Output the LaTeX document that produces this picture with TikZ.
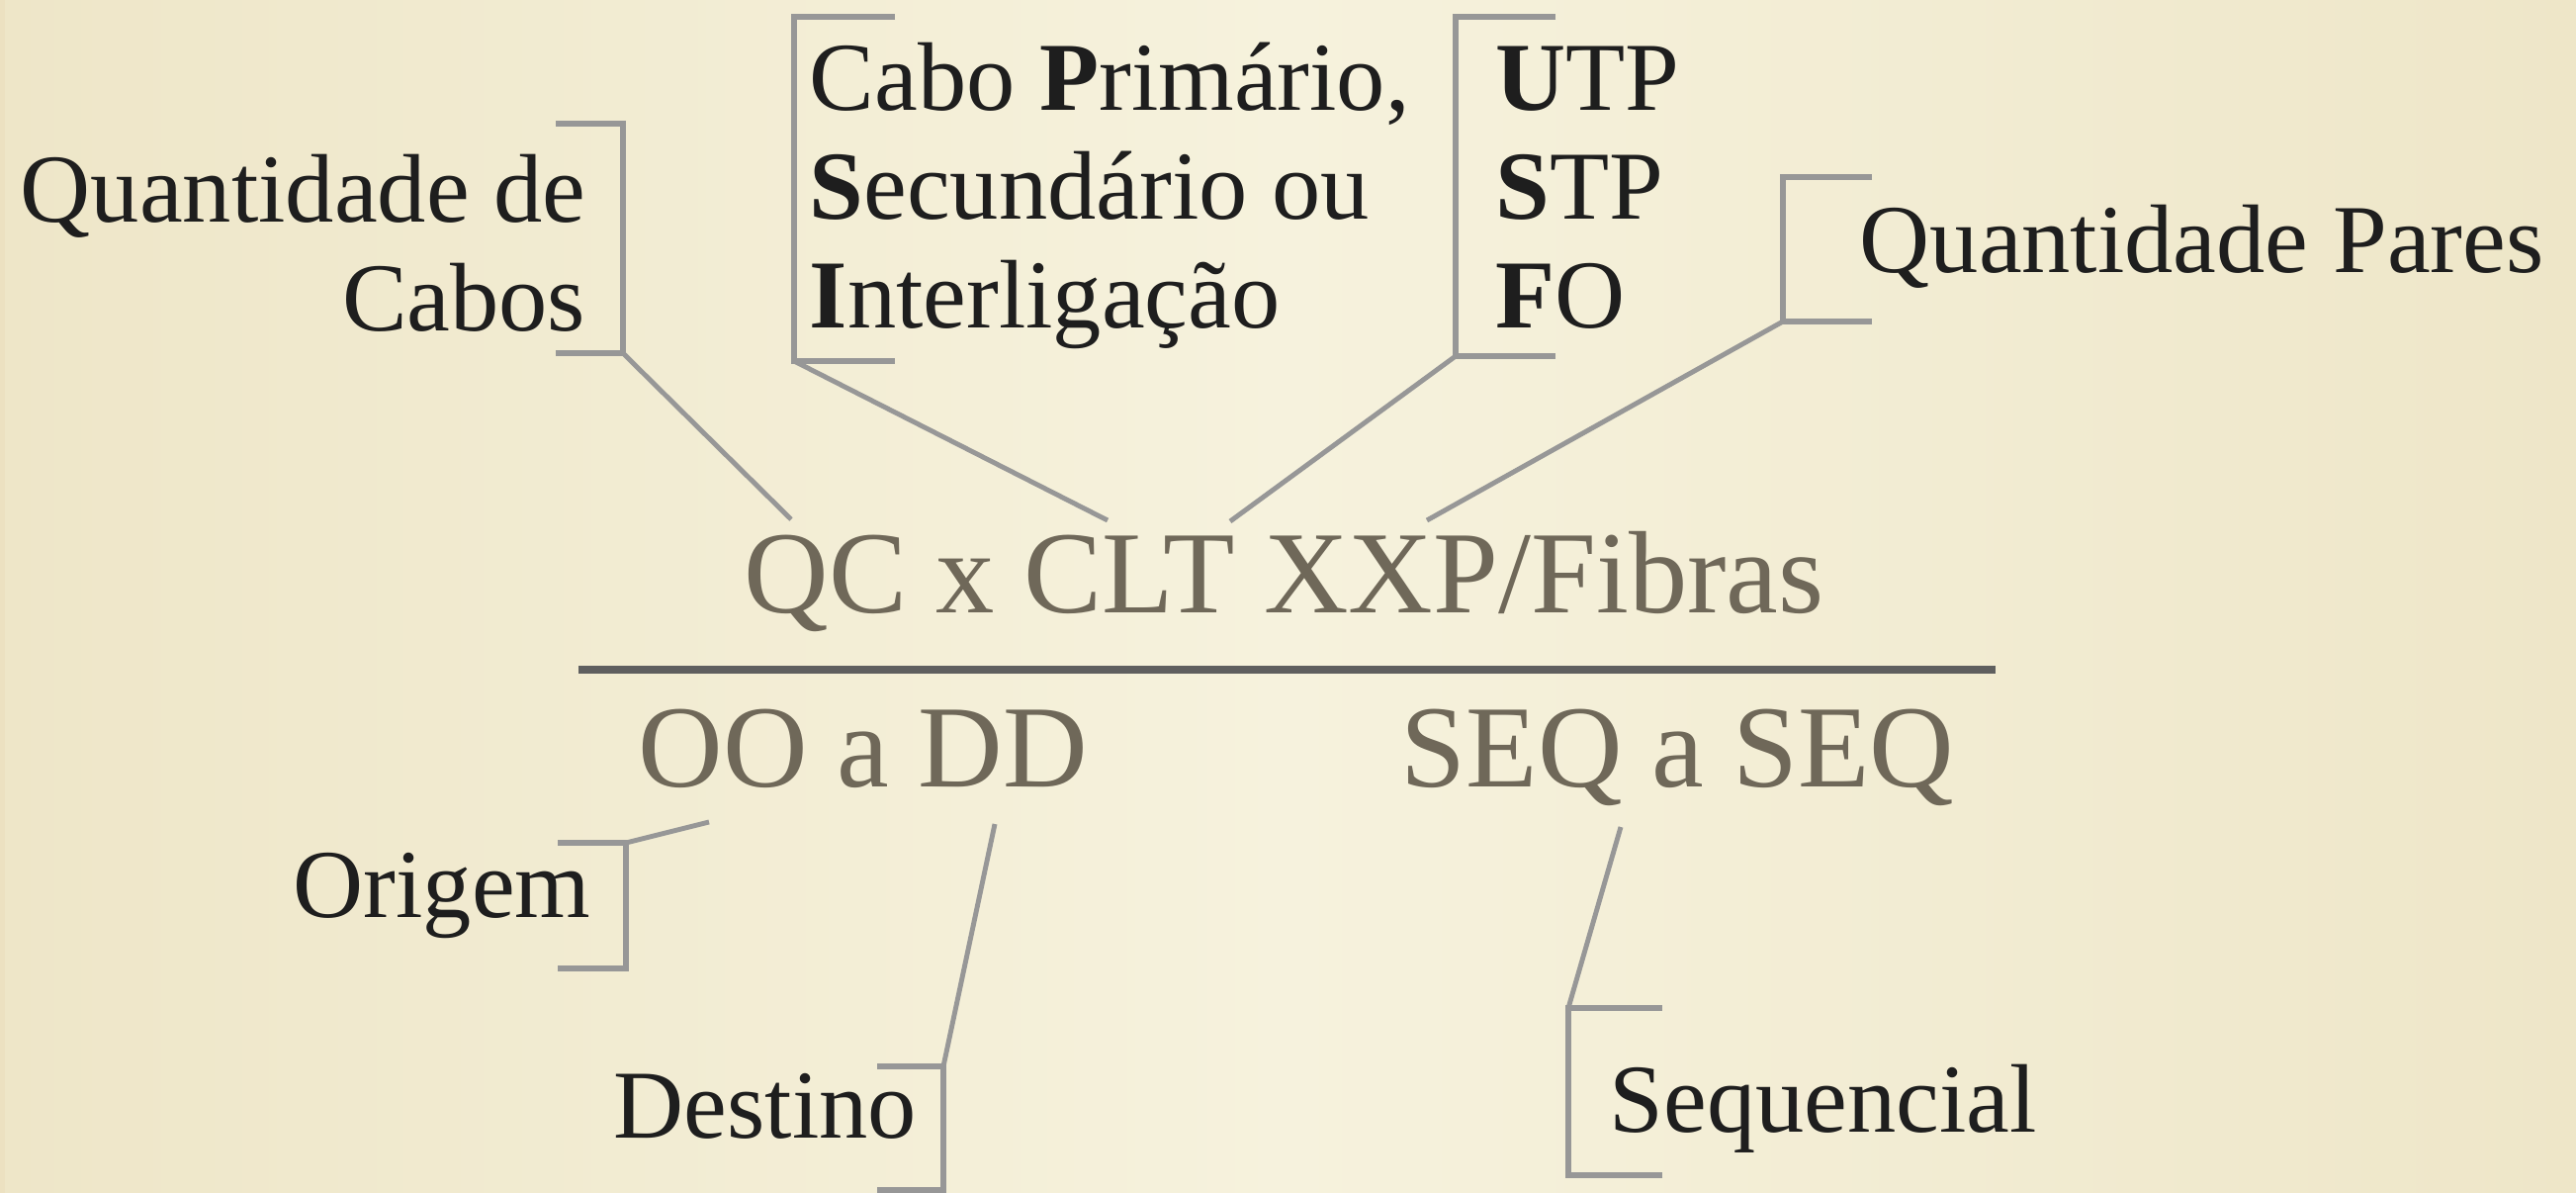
\documentclass[tikz,border=0pt]{standalone}
\usepackage{fontspec}
\setmainfont{Liberation Serif}
\usepackage{xcolor}
\usepackage{tikz}
\definecolor{papel}{HTML}{F6F2DD}
\definecolor{papelborda}{HTML}{EEE6C8}
\definecolor{cinzatitulo}{HTML}{6F6859}
\definecolor{cinzachave}{HTML}{979797}
\definecolor{cinzaregua}{HTML}{5F5F5F}
\definecolor{tinta}{HTML}{1E1E1E}
\tikzset{
  rotulo/.style={inner sep=0pt,text=tinta,font=\fontsize{28}{31.3}\selectfont},
  codigo/.style={inner sep=0pt,text=cinzatitulo,font=\fontsize{33.7}{40}\selectfont},
  chave/.style={draw=cinzachave,line width=1.5pt},
  ligacao/.style={draw=cinzachave,line width=1.4pt}
}

\begin{document}
\begin{tikzpicture}[x=0.01cm,y=-0.01cm]
  \useasboundingbox (0,0) rectangle (2605,1206);
  % fundo
  \shade[left color=papelborda,right color=papelborda,middle color=papel] (0,0) rectangle (2605,1206);
  \fill[papelborda!95!brown] (0,0) rectangle (5,1206);

  % codigo do cabo
  \node[codigo,anchor=base west] (qc) at (752,619) {QC x CLT XXP/Fibras};
  \node[codigo,anchor=base west] (od) at (645,795) {OO a DD};
  \node[codigo,anchor=base west] (sq) at (1416,795) {SEQ a SEQ};
  \coordinate (rA) at (585,677);
  \coordinate (rB) at (2018,677);
  \draw[cinzaregua,line width=2.3pt] (rA) -- (rB);

  % rotulos de cima
  \node[rotulo,anchor=base east] (cabos) at (593,224)
    {\begin{tabular}[t]{@{}r@{}}Quantidade de\\Cabos\end{tabular}};
  \node[rotulo,anchor=base west] (tipo) at (818,111)
    {\begin{tabular}[t]{@{}l@{}}Cabo \textbf{P}rimário,\\\textbf{S}ecundário ou\\\textbf{I}nterligação\end{tabular}};
  \node[rotulo,anchor=base west] (meio) at (1512,111)
    {\begin{tabular}[t]{@{}l@{}}\textbf{U}TP\\\textbf{S}TP\\\textbf{F}O\end{tabular}};
  \node[rotulo,anchor=base west] (pares) at (1880,275) {Quantidade Pares};

  % rotulos de baixo
  \node[rotulo,anchor=base west] (origem) at (296,927) {Origem};
  \node[rotulo,anchor=base west] (destino) at (620,1150) {Destino};
  \node[rotulo,anchor=base west] (seq) at (1627,1144) {Sequencial};

  % chaves
  \coordinate (k1) at (630,357);
  \coordinate (k2) at (803,365);
  \coordinate (k3) at (1472,360);
  \coordinate (k4) at (1803,325);
  \coordinate (k5) at (633,852);
  \coordinate (k6) at (954,1078);
  \coordinate (k7) at (1586,1019);
  \draw[chave] (562,125) -- (630,125) -- (k1) -- (562,357);
  \draw[chave] (905,17) -- (803,17) -- (k2) -- (905,365);
  \draw[chave] (1573,17) -- (1472,17) -- (k3) -- (1573,360);
  \draw[chave] (1893,179) -- (1803,179) -- (k4) -- (1893,325);
  \draw[chave] (564,979) -- (633,979) -- (k5) -- (564,852);
  \draw[chave] (887,1203) -- (954,1203) -- (k6) -- (887,1078);
  \draw[chave] (1681,1188) -- (1586,1188) -- (k7) -- (1681,1019);

  % ligacoes
  \coordinate (p1) at (800,525);
  \coordinate (p2) at (1120,526);
  \coordinate (p3) at (1244,527);
  \coordinate (p4) at (1443,526);
  \coordinate (p5) at (717,831);
  \coordinate (p6) at (1006,833);
  \coordinate (p7) at (1639,836);
  \foreach \i in {1,...,7}
    \draw[ligacao] (k\i) -- (p\i);
\end{tikzpicture}
\end{document}
